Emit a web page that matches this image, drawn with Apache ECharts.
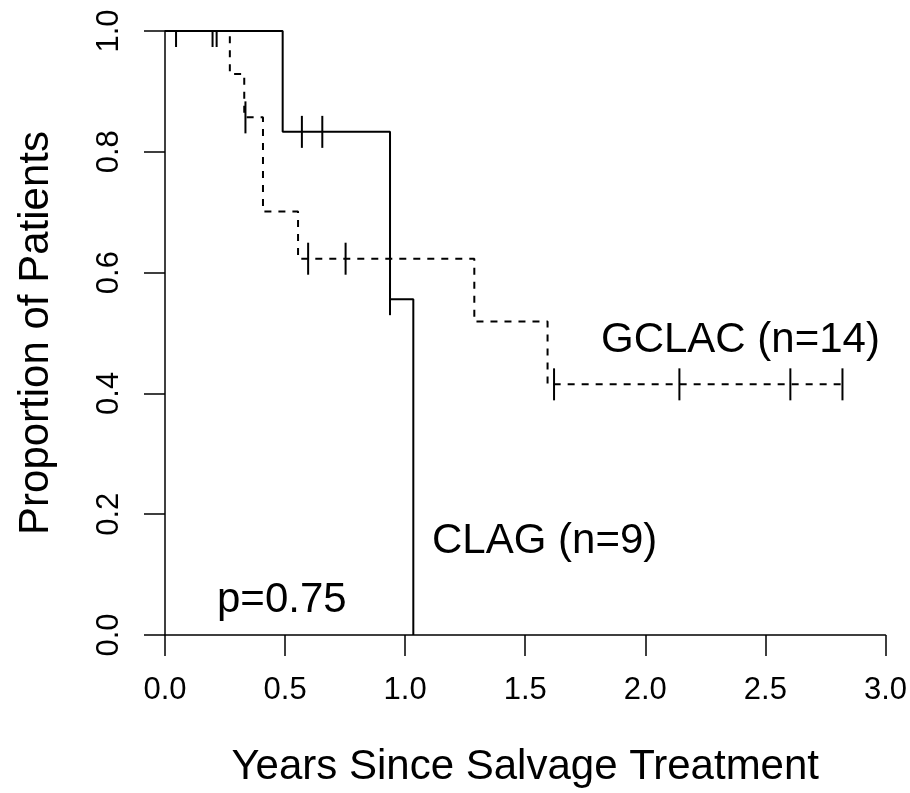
<!DOCTYPE html>
<html>
<head>
<meta charset="utf-8">
<script src="https://cdn.jsdelivr.net/npm/echarts@6/dist/echarts.min.js"></script>
<style>
  html, body { margin: 0; padding: 0; background: #fff; }
  #chart { width: 910px; height: 793px; }
</style>
</head>
<body>
<div id="chart"></div>
<script>
// Kaplan-Meier steps
const clagTimes = [0, 0.49, 0.937, 1.034];
const clagSurv = [1, 0.833, 0.556, 0];
const clagCensorTimes = [0.046, 0.198, 0.215, 0.57, 0.655, 0.937];
const clagCensorSurv = [1, 1, 1, 0.833, 0.833, 0.556];

const gclacTimes = [0, 0.27, 0.33, 0.408, 0.554, 1.288, 1.593, 2.821];
const gclacSurv = [1, 0.929, 0.857, 0.701, 0.623, 0.519, 0.415, 0.415];
const gclacCensorTimes = [0.335, 0.596, 0.752, 1.62, 2.142, 2.604, 2.821];
const gclacCensorSurv = [0.857, 0.623, 0.623, 0.415, 0.415, 0.415, 0.415];

const font = "'Liberation Sans', Arial, sans-serif";

const pairs = (xs, ys) => xs.map((x, i) => [x, ys[i]]);

// vertical censor ticks, clipped to the plot box like R does
const censorSeries = (xs, ys) => ({
  type: "custom",
  coordinateSystem: "cartesian2d",
  clip: true,
  silent: true,
  data: pairs(xs, ys),
  renderItem: (params, api) => {
    const p = api.coord([api.value(0), api.value(1)]);
    return {
      type: "line",
      shape: { x1: p[0], y1: p[1] - 16, x2: p[0], y2: p[1] + 16 },
      style: { stroke: "#000", lineWidth: 2 }
    };
  }
});

const chart = echarts.init(document.getElementById("chart"));
chart.setOption({
  backgroundColor: "#fff",
  animation: false,
  grid: { left: 165, right: 23, top: 31, bottom: 156 },
  xAxis: {
    type: "value",
    min: 0,
    max: 3,
    interval: 0.5,
    name: "Years Since Salvage Treatment",
    nameLocation: "middle",
    nameGap: 111,
    nameTextStyle: { color: "#000", fontSize: 42, fontFamily: font },
    axisLine: { lineStyle: { color: "#000", width: 1.5 } },
    axisTick: { length: 21, lineStyle: { color: "#000", width: 1.5 } },
    axisLabel: {
      margin: 40,
      color: "#000",
      fontSize: 31,
      fontFamily: font,
      formatter: v => v.toFixed(1)
    },
    splitLine: { show: false }
  },
  yAxis: {
    type: "value",
    min: 0,
    max: 1,
    interval: 0.2,
    name: "Proportion of Patients",
    nameLocation: "middle",
    nameRotate: 90,
    nameGap: 108,
    nameTextStyle: { color: "#000", fontSize: 42, fontFamily: font },
    axisLine: { lineStyle: { color: "#000", width: 1.5 } },
    axisTick: { length: 21, lineStyle: { color: "#000", width: 1.5 } },
    axisLabel: {
      rotate: 90,
      margin: 40,
      color: "#000",
      fontSize: 31,
      fontFamily: font,
      formatter: v => v.toFixed(1)
    },
    splitLine: { show: false }
  },
  series: [
    {
      name: "GCLAC",
      type: "line",
      step: "end",
      showSymbol: false,
      data: pairs(gclacTimes, gclacSurv),
      lineStyle: { color: "#000", width: 2, type: [7, 7] }
    },
    {
      name: "CLAG",
      type: "line",
      step: "end",
      showSymbol: false,
      data: pairs(clagTimes, clagSurv),
      lineStyle: { color: "#000", width: 2 }
    },
    censorSeries(gclacCensorTimes, gclacCensorSurv),
    censorSeries(clagCensorTimes, clagCensorSurv)
  ],
  graphic: [
    { type: "text", left: 601, top: 319, style: { text: "GCLAC (n=14)", fill: "#000", font: "42px " + font } },
    { type: "text", left: 432, top: 520, style: { text: "CLAG (n=9)", fill: "#000", font: "42px " + font } },
    { type: "text", left: 217, top: 579, style: { text: "p=0.75", fill: "#000", font: "42px " + font } }
  ]
});
</script>
</body>
</html>
